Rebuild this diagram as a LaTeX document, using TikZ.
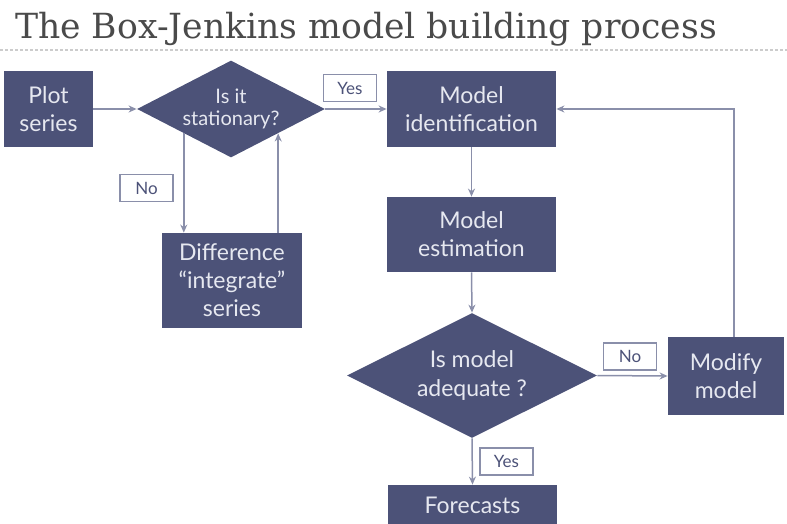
\documentclass[tikz,border=0pt]{standalone}
\usepackage{fontspec}
\setmainfont{Lato}
\newfontfamily\titlefont{DejaVu Serif}
\usepackage{tikz}
\usetikzlibrary{shapes.geometric,arrows.meta}

\definecolor{boxblue}{HTML}{4C5278}
\definecolor{boxtext}{HTML}{E6E8F0}
\definecolor{flowgray}{HTML}{8A8FAA}
\definecolor{titlegray}{HTML}{4A4A4A}

\tikzset{
    stepbox/.style={rectangle, fill=boxblue, text=boxtext, align=center, inner sep=0pt,
        font=\fontsize{11.5}{14}\selectfont},
    decision/.style={diamond, aspect=1.95, fill=boxblue, text=boxtext, align=center, inner sep=0pt},
    answer/.style={rectangle, draw=flowgray, line width=0.6pt, fill=white, text=boxblue,
        inner sep=0pt, minimum width=26.5pt, minimum height=13.5pt,
        font=\fontsize{8.5}{10}\selectfont},
    flow/.style={draw=flowgray, line width=0.75pt, -{Stealth[length=4pt,width=3.5pt]}}
}

\begin{document}
\begin{tikzpicture}[x=0.5pt, y=-0.5pt]
        \useasboundingbox (0,0) rectangle (787,524);

        \node[anchor=base west, text=titlegray, font=\titlefont\fontsize{17.3}{19}\selectfont]
            (title) at (8,39) {The Box-Jenkins model building process};
        \draw[draw=gray!40, line width=0.7pt, dash pattern=on 1.5pt off 1pt] (0,50) -- (787,50);

        \node[stepbox, minimum width=44.5pt, minimum height=38pt] (plot) at (48.5,109) {Plot\\series};
        \node[decision, minimum width=94pt, minimum height=48.5pt,
            font=\fontsize{10}{11}\selectfont] (stat) at (231,109) {Is it\\stationary?};
        \node[stepbox, minimum width=84.5pt, minimum height=38pt] (ident) at (471.5,109) {Model\\identification};
        \node[stepbox, minimum width=70pt, minimum height=47.5pt] (diff) at (232,280.5) {Difference\\``integrate''\\series};
        \node[stepbox, minimum width=84.5pt, minimum height=37.5pt] (estim) at (471.5,234.5) {Model\\estimation};
        \node[decision, minimum width=125pt, minimum height=62.5pt,
            font=\fontsize{11.5}{14.5}\selectfont] (adeq) at (472,375.5) {Is model\\adequate ?};
        \node[stepbox, minimum width=58pt, minimum height=39pt] (modify) at (726,376) {Modify\\model};
        \node[stepbox, minimum width=84.5pt, minimum height=20pt] (fore) at (472.5,505) {Forecasts};

        \node[answer] (yesA) at (350,88) {Yes};
        \node[answer] (noA) at (146.5,188) {No};
        \node[answer] (noB) at (630,356.5) {No};
        \node[answer] (yesB) at (506.5,461.5) {Yes};

        \draw[flow] (plot.east) -- (stat.west);
        \draw[flow] (stat.east) -- (ident.west);
        \draw[flow] (stat.south west) -- (stat.south west |- diff.north);
        \draw[flow] (diff.north -| stat.south east) -- (stat.south east);
        \draw[flow] (ident.south) -- (estim.north);
        \draw[flow] (estim.south) -- (adeq.north);
        \draw[flow] (adeq.east) -- (modify.west);
        \draw[flow] (adeq.south) -- (fore.north);
        \draw[flow] ([xshift=4pt]modify.north) |- (ident.east);
\end{tikzpicture}
\end{document}
